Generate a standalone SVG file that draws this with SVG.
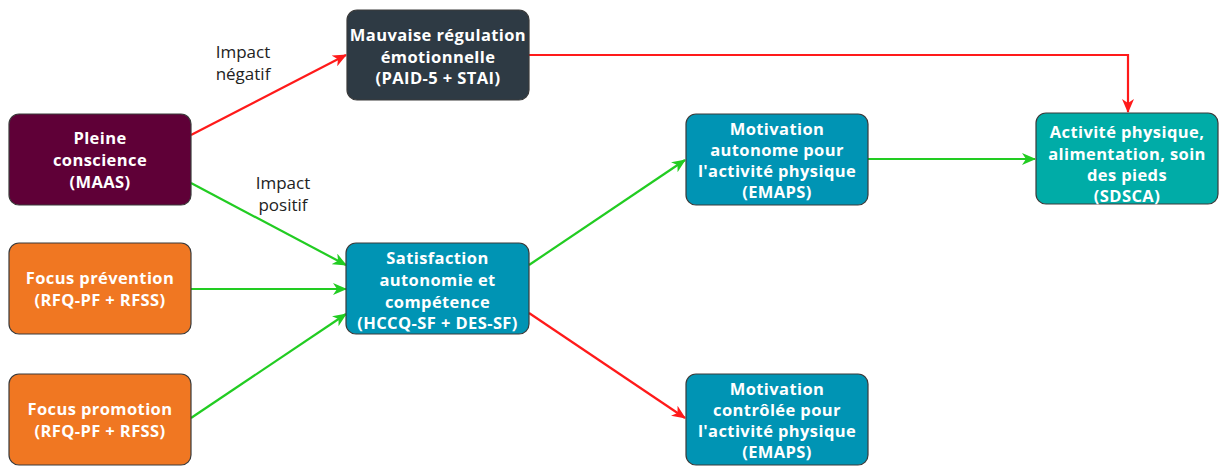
<svg xmlns="http://www.w3.org/2000/svg" width="1220" height="466" viewBox="0 0 1220 466">
<style>
.n rect{stroke:#3a3a3a;stroke-width:1.2}
.n text{font-family:"Open Sans","Noto Sans",sans-serif;font-weight:bold;font-size:16.5px;letter-spacing:0.4px;fill:#fff;text-anchor:middle}
.lbl{font-family:"Open Sans","Noto Sans",sans-serif;font-size:17px;fill:#222;text-anchor:middle}
.g{stroke:#22cc22;stroke-width:2.2;fill:none}
.r{stroke:#ff1a1a;stroke-width:2.2;fill:none}
</style>
<defs>
<marker id="ag" markerWidth="14" markerHeight="12" refX="13" refY="6" orient="auto" markerUnits="userSpaceOnUse"><path d="M0,0 L14,6 L0,12 L4,6 Z" fill="#22cc22"/></marker>
<marker id="ar" markerWidth="14" markerHeight="12" refX="13" refY="6" orient="auto" markerUnits="userSpaceOnUse"><path d="M0,0 L14,6 L0,12 L4,6 Z" fill="#ff1a1a"/></marker>
</defs>
<rect width="1220" height="466" fill="#fff"/>
<g id="connectors">
<path class="r" d="M191,135 L346,55" marker-end="url(#ar)"/>
<path class="g" d="M191,183 L346,265" marker-end="url(#ag)"/>
<path class="g" d="M191,289 L346,289" marker-end="url(#ag)"/>
<path class="g" d="M191,418 L346,314" marker-end="url(#ag)"/>
<path class="g" d="M529,265 L685,160" marker-end="url(#ag)"/>
<path class="g" d="M868,159 L1035,159" marker-end="url(#ag)"/>
<path class="r" d="M529,313 L685,418" marker-end="url(#ar)"/>
<path class="r" d="M529,55 L1128,55 L1128,112" marker-end="url(#ar)"/>
<text class="lbl" x="243" y="58">Impact</text>
<text class="lbl" x="243" y="80">négatif</text>
<text class="lbl" x="283" y="189">Impact</text>
<text class="lbl" x="283" y="211">positif</text>
</g>
<g id="pleine" class="n">
<rect x="9" y="114" width="182" height="91" rx="10" fill="#5f0037"/>
<text x="100" y="144">Pleine</text>
<text x="100" y="166">conscience</text>
<text x="100" y="188">(MAAS)</text>
</g>
<g id="mauvaise" class="n">
<rect x="347" y="10" width="182" height="90" rx="10" fill="#2e3a44"/>
<text x="438" y="41">Mauvaise régulation</text>
<text x="438" y="62.5">émotionnelle</text>
<text x="438" y="84">(PAID-5 + STAI)</text>
</g>
<g id="prevention" class="n">
<rect x="9" y="243" width="182" height="91" rx="10" fill="#f07722"/>
<text x="100" y="284">Focus prévention</text>
<text x="100" y="306">(RFQ-PF + RFSS)</text>
</g>
<g id="promotion" class="n">
<rect x="9" y="374" width="182" height="91" rx="10" fill="#f07722"/>
<text x="100" y="415">Focus promotion</text>
<text x="100" y="437">(RFQ-PF + RFSS)</text>
</g>
<g id="satisfaction" class="n">
<rect x="346" y="243" width="183" height="91" rx="10" fill="#0094b4"/>
<text x="437.5" y="264">Satisfaction</text>
<text x="437.5" y="286">autonomie et</text>
<text x="437.5" y="307.5">compétence</text>
<text x="437.5" y="329">(HCCQ-SF + DES-SF)</text>
</g>
<g id="autonome" class="n">
<rect x="686" y="114" width="182" height="91" rx="10" fill="#0094b4"/>
<text x="777" y="135">Motivation</text>
<text x="777" y="156">autonome pour</text>
<text x="777" y="177">l'activité physique</text>
<text x="777" y="198">(EMAPS)</text>
</g>
<g id="controlee" class="n">
<rect x="686" y="374" width="182" height="91" rx="10" fill="#0094b4"/>
<text x="777" y="395">Motivation</text>
<text x="777" y="416">contrôlée pour</text>
<text x="777" y="437">l'activité physique</text>
<text x="777" y="458">(EMAPS)</text>
</g>
<g id="activite" class="n">
<rect x="1036" y="113" width="182" height="91" rx="10" fill="#00aca7"/>
<text x="1127" y="138">Activité physique,</text>
<text x="1127" y="159.5">alimentation, soin</text>
<text x="1127" y="181">des pieds</text>
<text x="1127" y="202">(SDSCA)</text>
</g>
</svg>
